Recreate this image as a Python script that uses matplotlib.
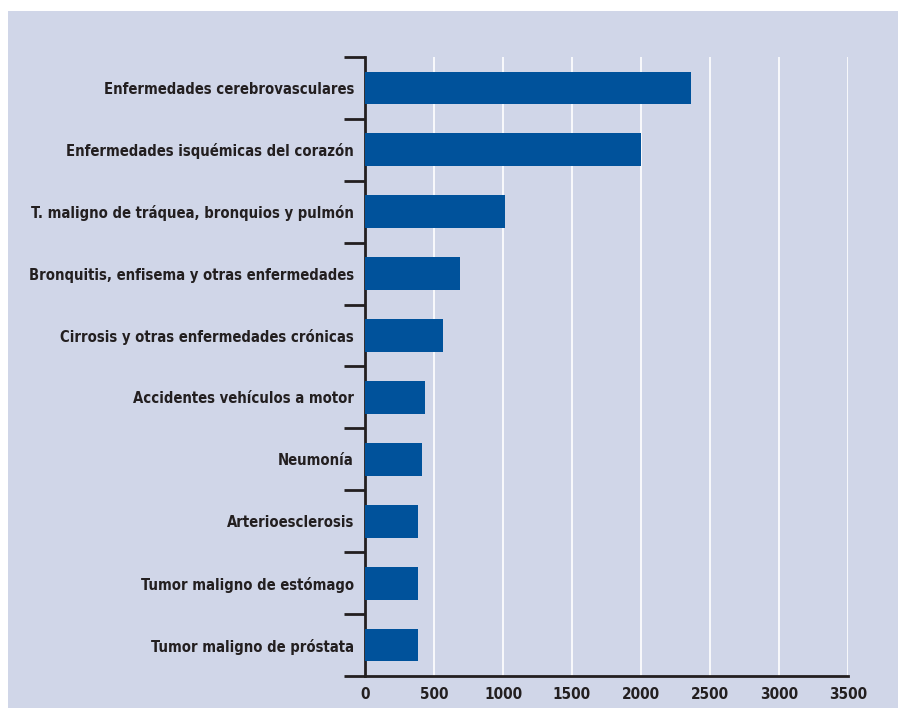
import matplotlib.pyplot as plt
import matplotlib.patches as mpatches
import numpy as np

categories = [
    'Enfermedades cerebrovasculares',
    'Enfermedades isquémicas del corazón',
    'T. maligno de tráquea, bronquios y pulmón',
    'Bronquitis, enfisema y otras enfermedades',
    'Cirrosis y otras enfermedades crónicas',
    'Accidentes vehículos a motor',
    'Neumonía',
    'Arterioesclerosis',
    'Tumor maligno de estómago',
    'Tumor maligno de próstata',
]
values = [2360, 2000, 1017, 685, 563, 433, 411, 382, 382, 382]
xticks = [0, 500, 1000, 1500, 2000, 2500, 3000, 3500]

bg = '#d0d6e8'
bar_color = '#00529b'
ink = '#231f20'
font = ['DejaVu Sans']

fig = plt.figure(figsize=(8.98, 7.08), dpi=100)
fig.patch.set_facecolor('white')
# shaded panel behind the chart
fig.patches.append(mpatches.Rectangle((8 / 898, 0), 1, 1 - 11 / 708,
                                      transform=fig.transFigure,
                                      facecolor=bg, edgecolor='none', zorder=-10))

ax = fig.add_axes([365 / 898, 1 - 676 / 708, (848 - 365) / 898, (676 - 57) / 708])
ax.set_facecolor(bg)

y = np.arange(len(categories))
ax.barh(y, values, height=0.53, color=bar_color, zorder=3)

ax.set_xlim(0, 3500)
ax.set_ylim(len(categories) - 0.5, -0.5)

ax.set_xticks(xticks)
ax.set_xticklabels([str(t) for t in xticks], family=font, fontweight='bold',
                   fontstretch='condensed', fontsize=11, color=ink)
ax.tick_params(axis='x', length=0, pad=8)
ax.xaxis.grid(True, color='white', linewidth=1.2, zorder=1)
ax.set_axisbelow(True)

ax.set_yticks(y)
ax.set_yticklabels(categories, family=font, fontweight='bold', fontstretch='condensed',
                   fontsize=10.6, color=ink)
ax.set_yticks(np.arange(-0.5, len(categories), 1.0), minor=True)
ax.tick_params(axis='y', which='major', length=0, pad=8)
ax.tick_params(axis='y', which='minor', length=15, width=2, color=ink, direction='out')

for side in ['top', 'right']:
    ax.spines[side].set_visible(False)
for side in ['left', 'bottom']:
    ax.spines[side].set_color(ink)
    ax.spines[side].set_linewidth(2)

fig.savefig('out.png', dpi=100, facecolor=fig.get_facecolor())
